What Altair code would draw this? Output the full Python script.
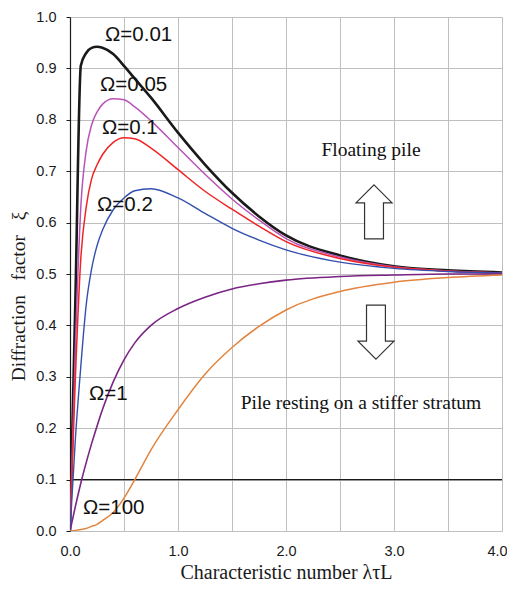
import altair as alt
import pandas as pd

x_vals = [0, 0.05, 0.1, 0.15, 0.2, 0.25, 0.3, 0.4, 0.5, 0.6, 0.75, 1.0, 1.25, 1.5, 1.75, 2.0, 2.5, 3.0, 3.5, 4.0]
xi_001 = [0, 0.45, 0.905, 0.93, 0.94, 0.942, 0.94, 0.928, 0.905, 0.88, 0.843, 0.775, 0.713, 0.658, 0.612, 0.575, 0.536, 0.515, 0.507, 0.503]
xi_005 = [0, 0.36, 0.63, 0.74, 0.79, 0.815, 0.83, 0.841, 0.839, 0.825, 0.798, 0.746, 0.694, 0.646, 0.605, 0.569, 0.533, 0.514, 0.506, 0.502]
xi_01 = [0, 0.30, 0.53, 0.63, 0.685, 0.712, 0.732, 0.756, 0.765, 0.763, 0.745, 0.703, 0.661, 0.626, 0.593, 0.563, 0.53, 0.513, 0.506, 0.502]
xi_02 = [0, 0.18, 0.32, 0.44, 0.51, 0.555, 0.585, 0.625, 0.648, 0.662, 0.666, 0.648, 0.618, 0.589, 0.566, 0.547, 0.523, 0.511, 0.505, 0.502]
xi_1 = [0, 0.048, 0.093, 0.133, 0.17, 0.204, 0.236, 0.29, 0.333, 0.366, 0.4, 0.433, 0.455, 0.471, 0.481, 0.488, 0.495, 0.498, 0.5, 0.5]
xi_100 = [0, 0.001, 0.003, 0.005, 0.009, 0.013, 0.02, 0.036, 0.064, 0.1, 0.158, 0.236, 0.305, 0.357, 0.398, 0.43, 0.466, 0.484, 0.493, 0.498]

series_names = ["Ω=0.01", "Ω=0.05", "Ω=0.1", "Ω=0.2", "Ω=1", "Ω=100"]
series_values = [xi_001, xi_005, xi_01, xi_02, xi_1, xi_100]
series_colors = ["#1a1a1a", "#b853b8", "#f02424", "#3450ae", "#7a2484", "#e2843e"]
series_widths = [2.6, 1.5, 1.5, 1.4, 1.6, 1.5]

label_x = [0.324, 0.278, 0.296, 0.25, 0.176, 0.12]
label_y = [0.965, 0.868, 0.784, 0.634, 0.267, 0.045]

note_text = ["Floating pile", "Pile resting on a stiffer stratum"]
note_x = [2.787, 2.694]
note_y = [0.741, 0.249]

arrow_x = [2.815, 2.833]
arrow_y = [0.621, 0.387]

x_ticks = [0, 0.5, 1, 1.5, 2, 2.5, 3, 3.5, 4]
y_ticks = [round(i * 0.1, 1) for i in range(11)]

rows = []
for name, vals, w in zip(series_names, series_values, series_widths):
    for xv, yv in zip(x_vals, vals):
        rows.append({"x": xv, "y": yv, "series": name, "w": w})
df = pd.DataFrame(rows)

labels_df = pd.DataFrame({"x": label_x, "y": label_y, "text": series_names})
notes_df = pd.DataFrame({"x": note_x, "y": note_y, "text": note_text})
up_df = pd.DataFrame({"x": arrow_x[:1], "y": arrow_y[:1]})
down_df = pd.DataFrame({"x": arrow_x[1:], "y": arrow_y[1:]})
axis_line_df = pd.DataFrame({"y": [0.1]})

xscale = alt.Scale(domain=[0, 4], nice=False)
yscale = alt.Scale(domain=[0, 1], nice=False)

xaxis = alt.Axis(
    values=x_ticks,
    labelExpr="datum.value % 1 == 0 ? format(datum.value, '.1f') : ''",
    grid=True, gridColor="#bfbfbf", gridWidth=1,
    domain=False, ticks=False, tickSize=0,
    labelFont="Liberation Sans", labelFontSize=14.5, labelColor="#1a1a1a",
    labelPadding=13, labelFlush=False,
    labelOffset={"condition": {"test": "datum.value == 4", "value": -5}, "value": 0},
    title="Characteristic number λτL",
    titleFont="Liberation Serif", titleFontSize=20, titleFontWeight="normal",
    titleColor="#1a1a1a", titleY=41, titleBaseline="middle",
)
yaxis = alt.Axis(
    values=y_ticks, format=".1f",
    grid=True, gridColor="#bfbfbf", gridWidth=1,
    domain=True, domainColor="#1a1a1a", domainWidth=1.2,
    ticks=True, tickColor="#1a1a1a", tickSize=4,
    labelFont="Liberation Sans", labelFontSize=14.5, labelColor="#1a1a1a",
    labelPadding=10,
    title="Diffraction\u00a0\u00a0 factor\u00a0\u00a0 ξ",
    titleFont="Liberation Serif", titleFontSize=19.5, titleFontWeight="normal",
    titleColor="#1a1a1a", titleX=-52, titleY=279, titleBaseline="middle",
    titleAlign="center", titleAngle=270,
)

lines = alt.Chart(df).mark_line(clip=True, interpolate="monotone").encode(
    x=alt.X("x:Q", scale=xscale, axis=xaxis),
    y=alt.Y("y:Q", scale=yscale, axis=yaxis),
    color=alt.Color("series:N", scale=alt.Scale(domain=series_names, range=series_colors), legend=None),
    strokeWidth=alt.StrokeWidth("w:Q", scale=None),
    detail="series:N",
)

axis_line = alt.Chart(axis_line_df).mark_rule(color="#1a1a1a", strokeWidth=1.2).encode(
    y=alt.Y("y:Q", scale=yscale)
)

labels = alt.Chart(labels_df).mark_text(
    align="left", baseline="middle", font="Liberation Sans", fontSize=20.5, color="#111111"
).encode(x=alt.X("x:Q", scale=xscale), y=alt.Y("y:Q", scale=yscale), text="text:N")

notes = alt.Chart(notes_df).mark_text(
    align="center", baseline="middle", font="Liberation Serif", fontSize=19.5, color="#111111"
).encode(x=alt.X("x:Q", scale=xscale), y=alt.Y("y:Q", scale=yscale), text="text:N")

up_path = "M0,-1L0.667,-0.333L0.35,-0.333L0.35,1L-0.35,1L-0.35,-0.333L-0.667,-0.333Z"
down_path = "M0,1L0.667,0.333L0.35,0.333L0.35,-1L-0.35,-1L-0.35,0.333L-0.667,0.333Z"

up_arrow = alt.Chart(up_df).mark_point(
    shape=up_path, size=2916, filled=True, fill="white", stroke="#333333", strokeWidth=1.2, opacity=1
).encode(x=alt.X("x:Q", scale=xscale), y=alt.Y("y:Q", scale=yscale))

down_arrow = alt.Chart(down_df).mark_point(
    shape=down_path, size=2916, filled=True, fill="white", stroke="#333333", strokeWidth=1.2, opacity=1
).encode(x=alt.X("x:Q", scale=xscale), y=alt.Y("y:Q", scale=yscale))

chart = alt.layer(axis_line, lines, labels, notes, up_arrow, down_arrow).properties(
    width=432, height=514,
    autosize=alt.AutoSizeParams(type="none"),
    padding={"left": 62, "top": 9, "right": 5, "bottom": 50},
).configure_view(stroke=None).configure(background="white")

chart.save("out.html", embed_options={"renderer": "svg", "actions": False})
